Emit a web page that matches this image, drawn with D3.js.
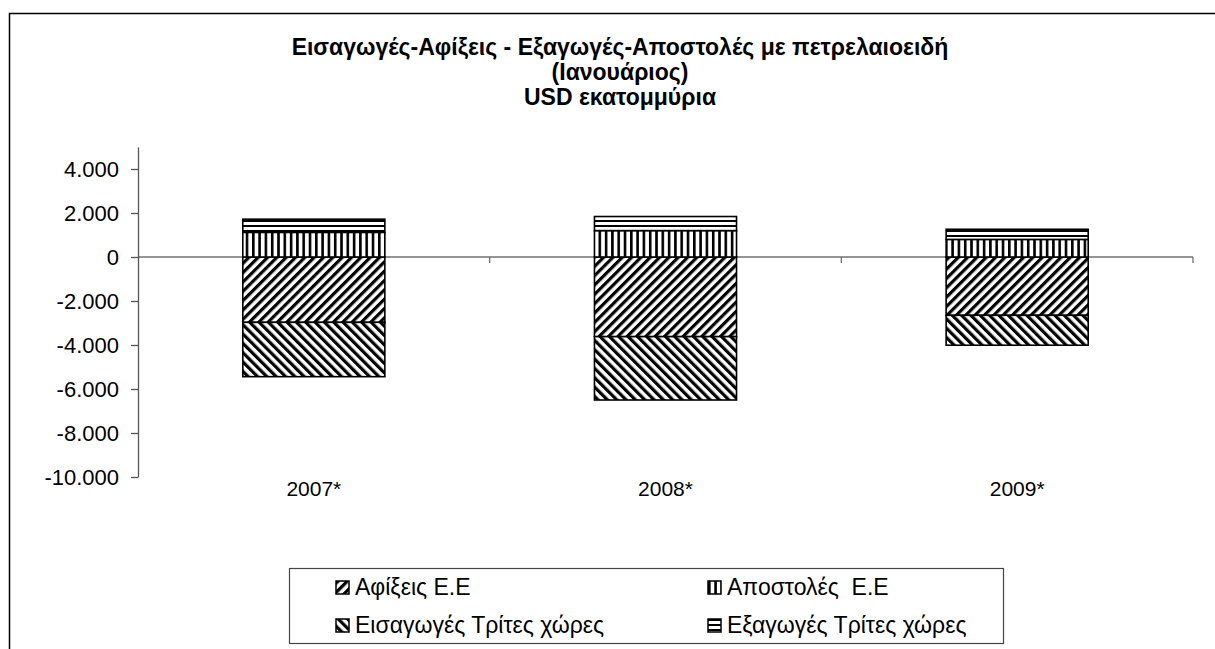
<!DOCTYPE html>
<html>
<head>
<meta charset="utf-8">
<script src="https://cdn.jsdelivr.net/npm/d3@7"></script>
<style>
  body { margin: 0; background: #fff; }
  svg { display: block; font-family: "Liberation Sans", Arial, sans-serif; }
</style>
</head>
<body>
<svg id="chart" width="1215" height="649"></svg>
<script>
'use strict';

var years = ['2007*', '2008*', '2009*'];
var seriesKeys = ['afixeis', 'apostoles', 'eisagoges', 'exagoges'];
var seriesNames = ['Αφίξεις Ε.Ε', 'Αποστολές  Ε.Ε', 'Εισαγωγές Τρίτες χώρες', 'Εξαγωγές Τρίτες χώρες'];
var afixeis = [-2970, -3620, -2650];
var apostoles = [1120, 1200, 800];
var eisagoges = [-2470, -2880, -1360];
var exagoges = [600, 640, 460];
var yTicks = [4000, 2000, 0, -2000, -4000, -6000, -8000, -10000];
var titleLines = [
  'Εισαγωγές-Αφίξεις - Εξαγωγές-Αποστολές με πετρελαιοειδή',
  '(Ιανουάριος)',
  'USD εκατομμύρια'
];

var svg = d3.select('#chart');

// greek number format: 4.000, -10.000
var fmt = d3.formatLocale({decimal: ',', thousands: '.', grouping: [3], currency: ['', ''], minus: '-'}).format(',');

var rows = years.map(function(y, i) {
  return {year: y, afixeis: afixeis[i], apostoles: apostoles[i], eisagoges: eisagoges[i], exagoges: exagoges[i]};
});

var stacked = d3.stack()
  .keys(seriesKeys)
  .offset(d3.stackOffsetDiverging)(rows);

var x = d3.scaleBand()
  .domain(years)
  .range([138, 1193])
  .paddingInner(0.596)
  .paddingOuter(0.298);

var y = d3.scaleLinear()
  .domain([-10000, 5000])
  .range([477, 147]);

// hatch patterns, black on white
var defs = svg.append('defs');

function hatch(id, size, barWidth, angle) {
  var p = defs.append('pattern')
    .attr('id', id)
    .attr('patternUnits', 'userSpaceOnUse')
    .attr('width', size)
    .attr('height', size)
    .attr('patternTransform', 'rotate(' + angle + ')');
  p.append('rect').attr('width', size).attr('height', size).attr('fill', '#fff');
  p.append('rect').attr('width', barWidth).attr('height', size).attr('fill', '#000');
}
hatch('p-afixeis', 6.6, 3.2, 45);
hatch('p-eisagoges', 6.6, 3.2, -45);
hatch('p-apostoles', 6.3, 2.6, 0);
hatch('p-exagoges', 5, 2, 90);

// outer frame
svg.append('rect')
  .attr('x', 9.5)
  .attr('y', 13.5)
  .attr('width', 1230)
  .attr('height', 700)
  .attr('fill', 'none')
  .attr('stroke', '#000')
  .attr('stroke-width', 1.5);

// title
svg.append('g')
  .selectAll('text')
  .data(titleLines)
  .join('text')
  .attr('x', 620)
  .attr('y', function(d, i) { return 55 + i * 25; })
  .attr('text-anchor', 'middle')
  .attr('font-size', 23)
  .attr('font-weight', 'bold')
  .attr('fill', '#000')
  .text(function(d) { return d; });

// zero line with category ticks
var step = x.step();
svg.append('line')
  .attr('x1', 138).attr('x2', 1193)
  .attr('y1', y(0)).attr('y2', y(0))
  .attr('stroke', '#707070').attr('stroke-width', 1.3);
svg.append('g')
  .selectAll('line')
  .data([1, 2, 3])
  .join('line')
  .attr('x1', function(k) { return 138 + step * k; })
  .attr('x2', function(k) { return 138 + step * k; })
  .attr('y1', y(0))
  .attr('y2', y(0) + 6)
  .attr('stroke', '#707070').attr('stroke-width', 1.3);

// y axis
var yAxis = svg.append('g')
  .attr('transform', 'translate(138,0)')
  .call(d3.axisLeft(y).tickValues(yTicks).tickSize(7).tickSizeOuter(0).tickFormat(fmt));
yAxis.select('.domain').attr('stroke', '#555').attr('stroke-width', 1.3);
yAxis.selectAll('.tick line').attr('stroke', '#555').attr('stroke-width', 1.3);
yAxis.selectAll('.tick text')
  .attr('x', -19)
  .attr('font-size', 22)
  .attr('font-family', '"Liberation Sans", Arial, sans-serif')
  .attr('fill', '#000');

// bars
svg.append('g')
  .selectAll('g')
  .data(stacked)
  .join('g')
  .attr('fill', function(s) { return 'url(#p-' + s.key + ')'; })
  .selectAll('rect')
  .data(function(s) { return s; })
  .join('rect')
  .attr('x', function(d) { return x(d.data.year); })
  .attr('width', x.bandwidth())
  .attr('y', function(d) { return y(Math.max(d[0], d[1])); })
  .attr('height', function(d) { return Math.abs(y(d[0]) - y(d[1])); })
  .attr('stroke', '#000')
  .attr('stroke-width', 1.6);

// category labels
svg.append('g')
  .selectAll('text')
  .data(years)
  .join('text')
  .attr('x', function(d) { return x(d) + x.bandwidth() / 2; })
  .attr('y', 496)
  .attr('text-anchor', 'middle')
  .attr('font-size', 21)
  .attr('fill', '#000')
  .text(function(d) { return d; });

// legend
var legend = svg.append('g');
legend.append('rect')
  .attr('x', 289.5).attr('y', 568.5)
  .attr('width', 714).attr('height', 75)
  .attr('fill', '#fff')
  .attr('stroke', '#444').attr('stroke-width', 1.2);

var colX = [336, 708];
var rowY = [581, 619];
var items = legend.selectAll('g.item')
  .data(seriesKeys)
  .join('g')
  .attr('class', 'item')
  .attr('transform', function(d, i) { return 'translate(' + colX[i % 2] + ',' + rowY[Math.floor(i / 2)] + ')'; });
items.append('rect')
  .attr('width', 13).attr('height', 13)
  .attr('fill', function(d) { return 'url(#p-' + d + ')'; })
  .attr('stroke', '#000').attr('stroke-width', 1.5);
items.append('text')
  .attr('x', 19)
  .attr('y', 14)
  .attr('font-size', 23)
  .attr('fill', '#000')
  .style('white-space', 'pre')
  .text(function(d, i) { return seriesNames[i]; });
</script>
</body>
</html>
